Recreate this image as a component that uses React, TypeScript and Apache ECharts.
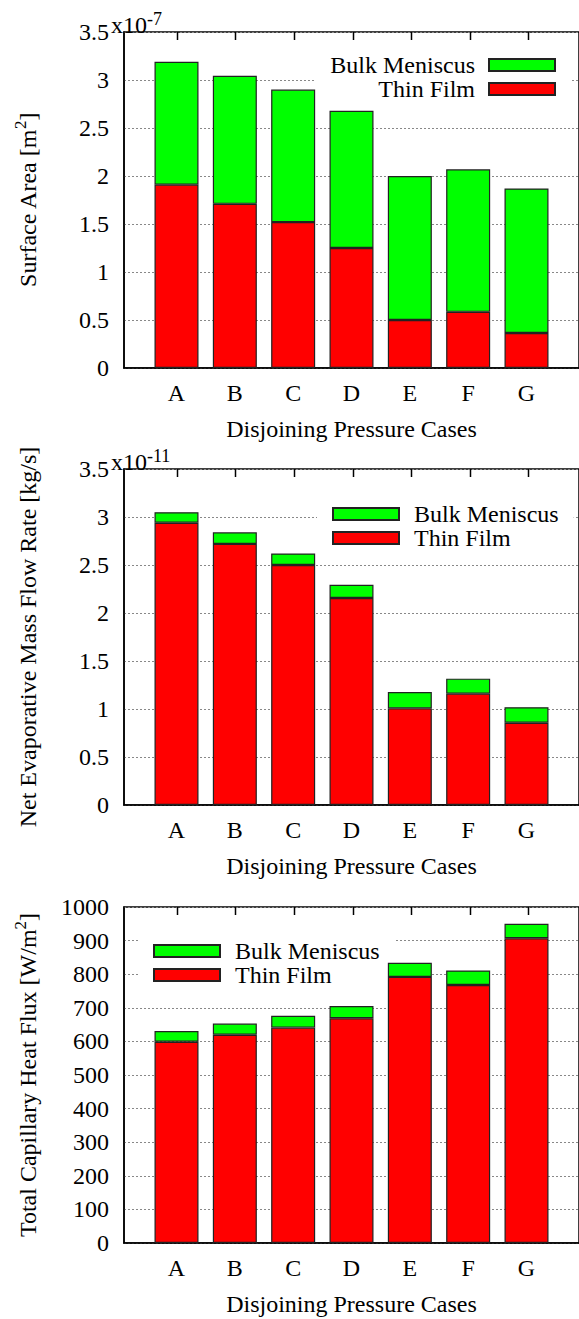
import React, { useEffect, useRef } from "react";
import * as echarts from "echarts";

// Disjoining pressure cases
const categories = ["A", "B", "C", "D", "E", "F", "G"];

// Surface area, units of 1e-7 m^2
const areaThinFilm = [1.91, 1.71, 1.52, 1.25, 0.5, 0.585, 0.365];
const areaBulkMeniscus = [1.28, 1.335, 1.38, 1.43, 1.5, 1.485, 1.505];

// Net evaporative mass flow rate, units of 1e-11 kg/s
const massThinFilm = [2.94, 2.72, 2.5, 2.156, 1.007, 1.16, 0.857];
const massBulkMeniscus = [0.11, 0.12, 0.12, 0.139, 0.17, 0.156, 0.161];

// Total capillary heat flux, W/m^2
const fluxThinFilm = [599, 620, 641, 669, 792, 768, 907];
const fluxBulkMeniscus = [32, 33, 35, 36, 42, 43, 43];

const FONT = '"Liberation Serif", "DejaVu Serif", "Times New Roman", serif';
const FS = 24;
const GREEN = "#00ff00";
const RED = "#ff0000";

const richName = {
  a: { fontFamily: FONT, fontSize: FS, lineHeight: 32, color: "#000" },
  s: { fontFamily: FONT, fontSize: 17, verticalAlign: "top", color: "#000" },
};

type Panel = {
  top: number;
  yMax: number;
  yInterval: number;
  yName: string;
  thin: number[];
  bulk: number[];
  legend: any;
};

const panels: Panel[] = [
  {
    top: 32,
    yMax: 3.5,
    yInterval: 0.5,
    yName: "{a|Surface Area [m}{s|2}{a|]}",
    thin: areaThinFilm,
    bulk: areaBulkMeniscus,
    legend: { right: 8, top: 45, align: "right", textPad: [0, 9, 0, 0] },
  },
  {
    top: 469,
    yMax: 3.5,
    yInterval: 0.5,
    yName: "{a|Net Evaporative Mass Flow Rate [kg/s]}",
    thin: massThinFilm,
    bulk: massBulkMeniscus,
    legend: { left: 317, top: 494, align: "left", textPad: [0, 0, 0, 10] },
  },
  {
    top: 907,
    yMax: 1000,
    yInterval: 100,
    yName: "{a|Total Capillary Heat Flux [W/m}{s|2}{a|]}",
    thin: fluxThinFilm,
    bulk: fluxBulkMeniscus,
    legend: { left: 138, top: 931, align: "left", textPad: [0, 0, 0, 10] },
  },
];

// plot frame geometry
const PLOT_LEFT = 124;
const PLOT_W = 457;
const PLOT_H = 336;
const X_MIN = -0.9;
const X_MAX = 6.9;
const UNIT = PLOT_W / (X_MAX - X_MIN);
const TICK_LEN = 8;
const tickValues = categories.map((_, i) => i);

const expRich = {
  a: { fontFamily: FONT, fontSize: FS, lineHeight: 30, color: "#000" },
  s: { fontFamily: FONT, fontSize: 18, verticalAlign: "top", color: "#000" },
};

// power-of-ten multipliers next to the top y label
const exponentTexts = [
  {
    type: "text",
    x: 111,
    y: 25,
    z: 10,
    style: { text: "{a|x10}{s|-7}", rich: expRich, verticalAlign: "middle", align: "left" },
  },
  {
    type: "text",
    x: 111,
    y: 462,
    z: 10,
    style: { text: "{a|x10}{s|-11}", rich: expRich, verticalAlign: "middle", align: "left" },
  },
];

// inward tick marks hanging from each panel's top border, one per case
function topTicks() {
  const lines: any[] = [];
  panels.forEach((p) => {
    tickValues.forEach((i) => {
      const x = Math.round(PLOT_LEFT + (i - X_MIN) * UNIT) + 0.5;
      lines.push({
        type: "line",
        silent: true,
        z: 20,
        shape: { x1: x, y1: p.top, x2: x, y2: p.top + TICK_LEN },
        style: { stroke: "#000", lineWidth: 1.5 },
      });
    });
  });
  return lines;
}

function buildOption() {
  const grid: any[] = [];
  const xAxis: any[] = [];
  const yAxis: any[] = [];
  const series: any[] = [];
  const legend: any[] = [];

  panels.forEach((p, k) => {
    grid.push({
      left: PLOT_LEFT,
      width: PLOT_W,
      top: p.top,
      height: PLOT_H,
      show: true,
      borderColor: "#000",
      borderWidth: 1.5,
      backgroundColor: "transparent",
    });

    // bottom axis with case letters
    xAxis.push({
      type: "value",
      gridIndex: k,
      min: X_MIN,
      max: X_MAX,
      position: "bottom",
      axisLine: { show: true, onZero: false, lineStyle: { color: "#000", width: 1.5 } },
      axisTick: { show: false },
      splitLine: { show: false },
      axisLabel: {
        customValues: tickValues,
        formatter: (v: number) => categories[Math.round(v)] ?? "",
        fontFamily: FONT,
        fontSize: FS,
        color: "#000",
        margin: 13,
      },
      name: "Disjoining Pressure Cases",
      nameLocation: "middle",
      nameGap: 49,
      nameTextStyle: { fontFamily: FONT, fontSize: FS, color: "#000" },
    });

    yAxis.push({
      type: "value",
      gridIndex: k,
      min: 0,
      max: p.yMax,
      interval: p.yInterval,
      axisLine: { show: true, onZero: false, lineStyle: { color: "#000", width: 1.5 } },
      axisTick: { show: false },
      axisLabel: {
        fontFamily: FONT,
        fontSize: FS,
        color: "#000",
        margin: 15,
        formatter: (v: number) => String(v),
      },
      splitLine: { show: true, lineStyle: { color: "#888", width: 1, type: [2, 2] } },
      name: p.yName,
      nameLocation: "middle",
      nameGap: 80,
      nameTextStyle: { fontFamily: FONT, fontSize: FS, color: "#000", rich: richName },
    });

    // value first, case index second, so the stack runs along y
    series.push({
      type: "bar",
      name: "Thin Film",
      xAxisIndex: k,
      yAxisIndex: k,
      stack: "panel" + k,
      barWidth: 44,
      encode: { x: 1, y: 0 },
      data: p.thin.map((v, i) => [v, i]),
      itemStyle: { color: RED, borderColor: "#222", borderWidth: 1.2 },
      emphasis: { disabled: true },
    });
    series.push({
      type: "bar",
      name: "Bulk Meniscus",
      xAxisIndex: k,
      yAxisIndex: k,
      stack: "panel" + k,
      barWidth: 44,
      encode: { x: 1, y: 0 },
      data: p.bulk.map((v, i) => [v, i]),
      itemStyle: { color: GREEN, borderColor: "#222", borderWidth: 1.2 },
      emphasis: { disabled: true },
    });

    const L = p.legend;
    legend.push({
      data: ["Bulk Meniscus", "Thin Film"],
      orient: "vertical",
      align: L.align,
      left: L.left,
      right: L.right,
      top: L.top,
      z: 1,
      itemWidth: 66,
      itemHeight: 12,
      itemGap: 0,
      icon: "rect",
      selectedMode: false,
      backgroundColor: "#fff",
      padding: [8, 15, 8, 15],
      textStyle: {
        fontFamily: FONT,
        fontSize: FS,
        color: "#000",
        lineHeight: 24,
        padding: L.textPad,
      },
    });
  });

  return {
    animation: false,
    backgroundColor: "#fff",
    tooltip: { show: false },
    grid,
    xAxis,
    yAxis,
    series,
    legend,
    graphic: [...exponentTexts, ...topTicks()],
  };
}

export default function App() {
  const ref = useRef<HTMLDivElement>(null);
  useEffect(() => {
    if (!ref.current) return;
    const chart = echarts.init(ref.current, null, { renderer: "svg" });
    chart.setOption(buildOption() as any);
    return () => chart.dispose();
  }, []);
  return (
    <div
      ref={ref}
      style={{ position: "absolute", left: 0, top: 0, width: 579, height: 1319, background: "#fff" }}
    />
  );
}
